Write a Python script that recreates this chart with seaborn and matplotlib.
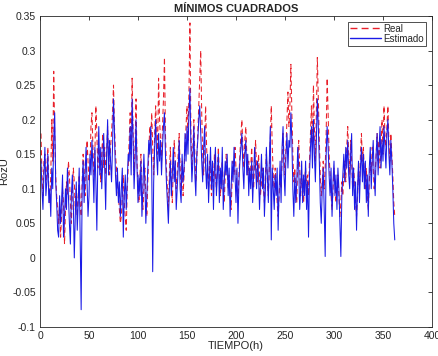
import numpy as np
import pandas as pd
import matplotlib
matplotlib.use("Agg")
import matplotlib.pyplot as plt
import seaborn as sns

real = [
0.18,0.12,0.09,0.14,0.15,0.11,0.13,0.16,0.10,0.08,
0.12,0.20,0.14,0.27,0.18,0.12,0.09,0.07,0.05,0.08,
0.03,0.06,0.10,0.08,0.02,0.07,0.11,0.09,0.14,0.12,
0.08,0.05,0.09,0.13,0.11,0.07,0.10,0.06,0.09,0.12,
0.08,0.06,0.11,0.15,0.13,0.09,0.12,0.17,0.14,0.11,
0.13,0.19,0.21,0.16,0.12,0.15,0.22,0.18,0.13,0.16,
0.14,0.11,0.15,0.18,0.13,0.16,0.12,0.15,0.19,0.14,
0.12,0.16,0.18,0.21,0.25,0.19,0.15,0.13,0.11,0.09,
0.07,0.05,0.06,0.09,0.12,0.08,0.06,0.04,0.10,0.13,
0.17,0.21,0.15,0.26,0.18,0.12,0.16,0.23,0.14,0.10,
0.08,0.12,0.15,0.11,0.07,0.10,0.13,0.09,0.06,0.11,
0.15,0.19,0.17,0.21,0.16,0.12,0.18,0.22,0.19,0.15,
0.26,0.20,0.17,0.14,0.19,0.23,0.29,0.18,0.13,0.10,
0.07,0.12,0.16,0.11,0.08,0.13,0.17,0.14,0.10,0.12,
0.15,0.18,0.13,0.10,0.14,0.09,0.12,0.16,0.19,0.22,
0.17,0.24,0.34,0.18,0.13,0.16,0.20,0.15,0.11,0.14,
0.18,0.22,0.26,0.30,0.21,0.15,0.12,0.17,0.22,0.16,
0.13,0.10,0.14,0.12,0.09,0.13,0.11,0.15,0.12,0.10,
0.13,0.16,0.12,0.09,0.11,0.14,0.10,0.08,0.12,0.15,
0.13,0.10,0.12,0.09,0.07,0.11,0.14,0.12,0.16,0.13,
0.10,0.08,0.12,0.15,0.18,0.20,0.16,0.13,0.17,0.19,
0.15,0.12,0.14,0.11,0.13,0.16,0.12,0.10,0.14,0.17,
0.13,0.11,0.15,0.12,0.09,0.11,0.13,0.10,0.08,0.12,
0.15,0.11,0.09,0.13,0.17,0.22,0.16,0.12,0.10,0.13,
0.11,0.08,0.06,0.09,0.12,0.10,0.14,0.18,0.15,0.12,
0.16,0.20,0.24,0.19,0.22,0.28,0.21,0.15,0.11,0.13,
0.10,0.08,0.14,0.17,0.13,0.09,0.12,0.10,0.08,0.11,
0.13,0.10,0.12,0.09,0.14,0.18,0.22,0.16,0.25,0.19,
0.14,0.21,0.29,0.23,0.17,0.12,0.09,0.11,0.14,0.10,
0.13,0.18,0.26,0.21,0.15,0.12,0.09,0.07,0.10,0.13,
0.11,0.08,0.10,0.12,0.09,0.06,0.08,0.11,0.09,0.12,
0.14,0.11,0.16,0.19,0.15,0.12,0.17,0.14,0.10,0.13,
0.11,0.08,0.06,0.09,0.13,0.10,0.15,0.18,0.14,0.16,
0.12,0.10,0.13,0.09,0.07,0.11,0.14,0.12,0.16,0.13,
0.10,0.12,0.15,0.18,0.14,0.17,0.13,0.16,0.20,0.15,
0.22,0.18,0.16,0.19,0.22,0.17,0.14,0.18,0.15,0.12,
0.08,0.06]

estimado = [
0.14,0.10,0.07,0.12,0.16,0.09,0.11,0.15,0.08,0.10,
0.06,0.13,0.10,0.17,0.21,0.11,0.08,0.04,0.03,0.09,
0.05,0.08,0.12,0.03,0.06,0.10,0.07,0.13,0.09,0.05,
0.02,0.09,0.12,0.08,0.00,0.06,0.11,0.04,0.08,0.13,
0.03,-0.075,0.10,0.14,0.08,0.12,0.16,0.11,0.06,0.09,
0.15,0.12,0.17,0.13,0.08,0.16,0.11,0.04,0.14,0.19,
0.12,0.16,0.10,0.14,0.18,0.13,0.07,0.15,0.20,0.12,
0.17,0.14,0.11,0.16,0.23,0.18,0.12,0.09,0.13,0.08,
0.11,0.06,0.10,0.13,0.03,0.09,0.12,0.07,0.11,0.15,
0.14,0.19,0.12,0.23,0.17,0.10,0.14,0.20,0.13,0.08,
0.12,0.09,0.14,0.06,0.10,0.15,0.11,0.05,0.09,0.13,
0.17,0.15,0.19,0.13,-0.02,0.11,0.16,0.20,0.15,0.12,
0.18,0.14,0.17,0.12,0.16,0.19,0.21,0.15,0.11,0.08,
0.05,0.10,0.14,0.09,0.12,0.16,0.11,0.14,0.07,0.10,
0.13,0.17,0.10,0.08,0.15,0.11,0.13,0.18,0.14,0.19,
0.15,0.21,0.245,0.16,0.11,0.14,0.19,0.12,0.09,0.15,
0.17,0.20,0.22,0.18,0.14,0.11,0.16,0.19,0.13,0.10,
0.15,0.08,0.12,0.16,0.10,0.14,0.07,0.13,0.16,0.09,
0.12,0.15,0.08,0.13,0.10,0.16,0.07,0.11,0.14,0.12,
0.15,0.09,0.13,0.06,0.10,0.14,0.11,0.16,0.12,0.08,
0.13,0.05,0.11,0.14,0.16,0.18,0.13,0.10,0.15,0.17,
0.12,0.15,0.09,0.13,0.10,0.14,0.08,0.12,0.16,0.13,
0.10,0.14,0.12,0.07,0.11,0.15,0.10,0.13,0.06,0.10,
0.16,0.12,0.08,0.14,0.19,0.026,0.13,0.10,0.07,0.12,
0.09,0.13,0.04,0.10,0.14,0.08,0.16,0.19,0.12,0.09,
0.15,0.18,0.13,0.17,0.16,0.21,0.17,0.10,0.06,0.12,
0.08,0.11,0.16,0.13,0.07,0.10,0.14,0.08,0.12,0.09,
0.14,0.07,0.11,0.03,0.12,0.16,0.19,0.13,0.20,0.15,
0.11,0.17,0.23,0.19,0.14,0.08,0.05,0.10,0.13,0.07,
0.002,0.15,0.19,0.16,0.12,0.09,0.13,0.06,0.11,0.14,
0.09,0.12,0.07,0.13,0.10,0.05,0.002,0.09,0.12,0.15,
0.11,0.16,0.13,0.17,0.12,0.10,0.15,0.18,0.09,0.13,
0.07,0.11,0.04,0.10,0.14,0.08,0.13,0.16,0.11,0.15,
0.10,0.14,0.08,0.12,0.06,0.13,0.16,0.10,0.14,0.17,
0.12,0.09,0.15,0.18,0.12,0.16,0.19,0.13,0.17,0.14,
0.19,0.16,0.13,0.18,0.20,0.15,0.12,0.17,0.14,0.10,
0.05,0.026]

xticks = [0, 50, 100, 150, 200, 250, 300, 350, 400]
xticklabels = ["0", "50", "100", "150", "200", "250", "300", "350", "400"]
yticks = [-0.1, -0.05, 0, 0.05, 0.1, 0.15, 0.2, 0.25, 0.3, 0.35]
yticklabels = ["-0.1", "-0.05", "0", "0.05", "0.1", "0.15", "0.2", "0.25", "0.3", "0.35"]

sns.set_style("white")
plt.rcParams['font.family'] = ['Liberation Sans', 'DejaVu Sans']

t = np.arange(1, len(real) + 1)
df = pd.DataFrame({"t": t, "Real": real, "Estimado": estimado[:len(real)]})

fig = plt.figure(figsize=(4.39, 3.56), dpi=100)
ax = fig.add_axes([40/439, 29/356, 392/439, 311/356])

sns.lineplot(data=df, x="t", y="Real", ax=ax, color="#e8202a", lw=0.75,
             linestyle=(0, (5, 3)), label="Real")
sns.lineplot(data=df, x="t", y="Estimado", ax=ax, color="#1a1ae6", lw=0.75,
             label="Estimado")

ax.set_xlim(0, 400)
ax.set_ylim(-0.1, 0.35)
ax.set_xticks(xticks)
ax.set_xticklabels(xticklabels)
ax.set_yticks(yticks)
ax.set_yticklabels(yticklabels)
ax.tick_params(direction="in", length=3, width=0.6, top=True, right=True,
               labelsize=7.5, colors="#262626", pad=3)
for s in ax.spines.values():
    s.set_linewidth(0.6)
    s.set_color("#262626")
    s.set_visible(True)

ax.set_xlabel("TIEMPO(h)", fontsize=8, labelpad=0, color="#262626")
ax.set_ylabel("RozU", fontsize=8, labelpad=2, color="#262626")
ax.set_title("MÍNIMOS CUADRADOS", fontsize=8, fontweight="bold", pad=3)

leg = ax.legend(loc="upper right", fontsize=7, frameon=True, fancybox=False,
                borderpad=0.2, labelspacing=0.0, handlelength=3.2,
                handletextpad=0.3, borderaxespad=0.6)
leg.get_frame().set_edgecolor("black")
leg.get_frame().set_linewidth(0.6)
for h in leg.get_lines():
    h.set_linewidth(1.0)

fig.savefig("out.png", dpi=100)
